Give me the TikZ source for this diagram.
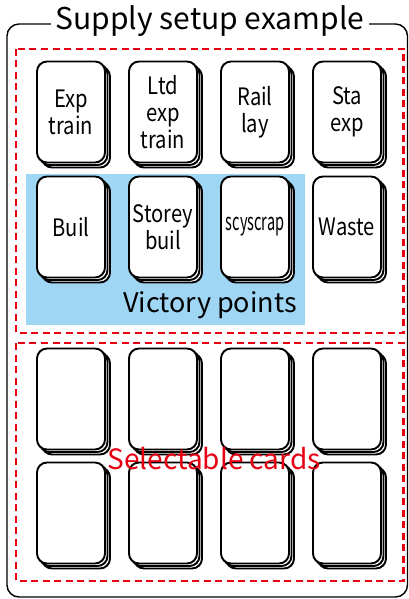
\documentclass[tikz,border=0pt]{standalone}
\usepackage{fontspec}
\setmainfont{Noto Sans CJK JP}
\newfontfamily\cardfont[FakeStretch=0.84]{Noto Sans CJK JP}
\definecolor{VPBlue}{RGB}{158,214,244}
\definecolor{SelRed}{RGB}{230,0,18}
\usetikzlibrary{positioning}

\tikzset{
    card/.style={rectangle, rounded corners=10pt, draw, line width=1.9pt, fill=white,
        minimum width=68pt, minimum height=101pt, inner sep=0pt, align=center,
        font=\cardfont\fontsize{24}{27}\selectfont},
    zone/.style={draw=SelRed, line width=2.3pt, dash pattern=on 7pt off 4.5pt},
}

\begin{document}
\begin{tikzpicture}[x=1pt,y=-1pt]
    \useasboundingbox (0,0) rectangle (409,599);
    % outer frame with title
    \draw[line width=1.4pt, rounded corners=12pt] (7,24) rectangle (407.5,597);
    \node[fill=white, inner xsep=5pt, inner ysep=0pt, font=\fontsize{30}{32}\selectfont] (title) at (210,21) {Supply setup example};
    % victory point area
    \fill[VPBlue] (26,174) rectangle (305,325);
    \node[font=\fontsize{27}{30}\selectfont] (vp) at (210,305) {Victory points};
    % dashed zones
    \draw[zone] (16,49) rectangle (403.5,333);
    \draw[zone] (16,343) rectangle (403.5,581);
    % card stacks
    \foreach \name/\col/\row/\txt in {
        exptrain/0/112/{Exp\\train}, ltdexp/1/112/{Ltd\\exp\\train}, raillay/2/112/{Rail\\lay}, staexp/3/112/{Sta\\exp},
        buil/0/227/{Buil}, storey/1/227/{Storey\\buil}, scyscrap/2/227/{\scalebox{0.72}[1]{scyscrap}}, waste/3/227/{Waste},
        sel1/0/399/{}, sel2/1/399/{}, sel3/2/399/{}, sel4/3/399/{},
        sel5/0/513/{}, sel6/1/513/{}, sel7/2/513/{}, sel8/3/513/{}}
    {
        \foreach \d in {5,2.5}
            \node[card] at (\col*92+71+\d, \row+\d) {};
        \node[card] (\name) at (\col*92+71, \row) {\txt};
    }
    \node[text=SelRed, font=\fontsize{28}{30}\selectfont] (sel) at (214,459) {Selectable cards};
\end{tikzpicture}
\end{document}
